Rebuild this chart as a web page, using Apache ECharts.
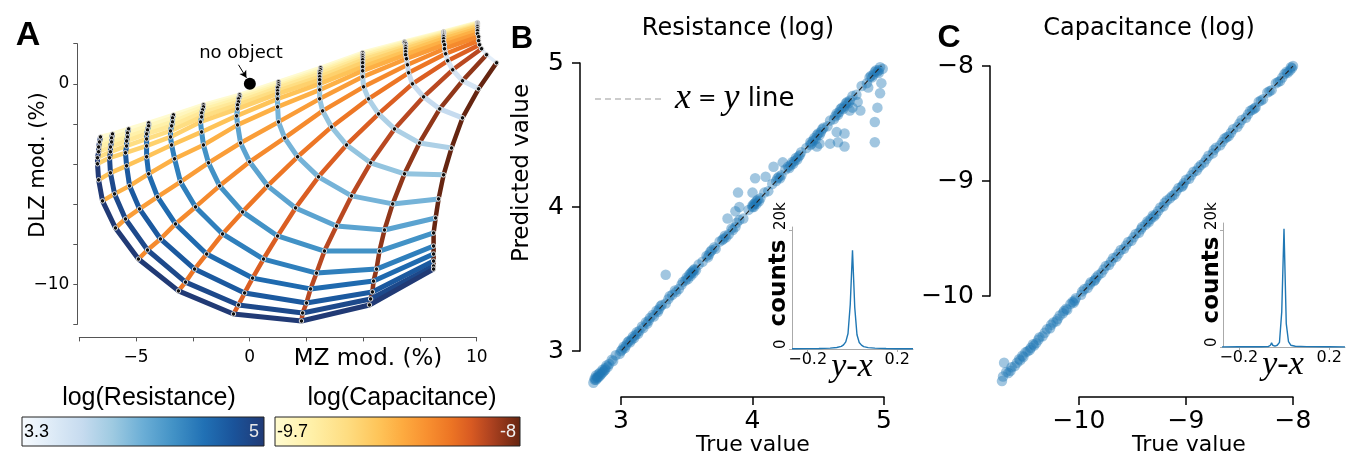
<!DOCTYPE html>
<html><head><meta charset="utf-8">
<script src="https://cdn.jsdelivr.net/npm/echarts@6/dist/echarts.min.js"></script>
<style>html,body{margin:0;padding:0;background:#fff}#c{width:1348px;height:455px}</style>
</head><body><div id="c"></div><script>
// ---------- Panel A data: grid of (MZ, DLZ) points, rows = resistance, cols = capacitance ----------
const RES = [3.30,3.44,3.58,3.73,3.87,4.01,4.15,4.29,4.43,4.58,4.72,4.86,5.00];
const CAP = [-9.70,-9.58,-9.46,-9.34,-9.21,-9.09,-8.97,-8.85,-8.73,-8.61,-8.49,-8.36,-8.24,-8.12,-8.00];
const gridMZ = [
 [10.01,10.01,10.01,10.01,10.01,10.01,10.01,10.01,10.01,10.06,10.06,10.10,10.19,10.41,10.85],
 [8.52,8.52,8.52,8.52,8.52,8.52,8.52,8.52,8.56,8.56,8.61,8.70,8.92,9.35,10.06],
 [6.80,6.80,6.85,6.85,6.85,6.85,6.85,6.85,6.89,6.93,6.98,7.15,7.64,8.35,9.35],
 [4.96,4.96,4.96,4.96,4.96,4.96,4.96,4.96,4.96,5.00,5.22,5.66,6.36,7.46,8.87],
 [3.11,3.11,3.07,3.07,3.07,3.07,3.07,3.07,3.07,3.20,3.59,4.25,5.31,6.80,8.52],
 [1.26,1.26,1.26,1.22,1.22,1.22,1.22,1.22,1.26,1.53,2.10,3.02,4.47,6.28,8.30],
 [-0.45,-0.45,-0.50,-0.50,-0.54,-0.54,-0.58,-0.54,-0.41,-0.01,0.78,2.01,3.81,5.92,8.17],
 [-2.04,-2.04,-2.08,-2.12,-2.12,-2.17,-2.12,-2.04,-1.82,-1.33,-0.32,1.22,3.28,5.70,8.08],
 [-3.36,-3.40,-3.40,-3.44,-3.49,-3.49,-3.44,-3.31,-3.05,-2.39,-1.20,0.60,2.93,5.57,8.08],
 [-4.45,-4.45,-4.50,-4.54,-4.54,-4.54,-4.54,-4.45,-4.06,-3.27,-1.90,0.12,2.67,5.44,8.08],
 [-5.33,-5.38,-5.38,-5.42,-5.42,-5.47,-5.42,-5.29,-4.85,-3.93,-2.43,-0.23,2.49,5.39,8.08],
 [-6.04,-6.08,-6.08,-6.13,-6.13,-6.17,-6.13,-5.95,-5.47,-4.50,-2.83,-0.50,2.32,5.31,8.08],
 [-6.57,-6.61,-6.65,-6.65,-6.70,-6.70,-6.65,-6.48,-5.91,-4.90,-3.14,-0.72,2.27,5.26,8.08]
];
const gridDLZ = [
 [3.05,3.02,2.99,2.95,2.90,2.85,2.75,2.65,2.50,2.35,2.15,1.95,1.75,1.45,1.05],
 [2.60,2.56,2.52,2.47,2.42,2.35,2.25,2.10,1.95,1.75,1.50,1.15,0.70,0.15,-0.25],
 [2.10,2.05,2.00,1.92,1.85,1.75,1.60,1.45,1.25,0.95,0.55,0.00,-0.65,-1.25,-1.70],
 [1.55,1.47,1.40,1.30,1.20,1.05,0.85,0.65,0.35,-0.15,-0.75,-1.50,-2.25,-2.95,-3.20],
 [0.80,0.70,0.60,0.50,0.35,0.20,0.00,-0.30,-0.75,-1.35,-2.15,-3.05,-3.94,-4.49,-4.54],
 [0.10,0.00,-0.10,-0.20,-0.35,-0.50,-0.75,-1.15,-1.90,-2.70,-3.64,-4.64,-5.59,-5.99,-5.74],
 [-0.55,-0.65,-0.75,-0.90,-1.05,-1.25,-1.60,-2.05,-2.95,-3.89,-5.09,-6.19,-7.09,-7.29,-6.69],
 [-1.05,-1.15,-1.30,-1.45,-1.65,-1.90,-2.40,-3.05,-3.94,-5.09,-6.39,-7.59,-8.34,-8.34,-7.44],
 [-1.55,-1.70,-1.90,-2.10,-2.35,-2.65,-3.05,-3.74,-4.89,-6.14,-7.49,-8.74,-9.44,-9.24,-8.09],
 [-1.95,-2.10,-2.30,-2.50,-2.75,-3.10,-3.64,-4.49,-5.64,-6.99,-8.49,-9.69,-10.23,-9.84,-8.49],
 [-2.25,-2.45,-2.65,-2.85,-3.10,-3.44,-4.09,-5.09,-6.24,-7.74,-9.24,-10.43,-10.93,-10.38,-8.84],
 [-2.50,-2.70,-2.90,-3.15,-3.39,-3.69,-4.44,-5.49,-6.74,-8.29,-9.89,-11.03,-11.43,-10.73,-9.09],
 [-2.65,-2.90,-3.15,-3.39,-3.69,-3.99,-4.79,-5.84,-7.19,-8.74,-10.33,-11.48,-11.83,-11.03,-9.24]
];
const noObject = [[0.0, 0.0]];
const aXTicks = [-5, 0, 10];
const aYTicks = [0, -10];

// ---------- Panel B data (true, predicted) ----------
const bPoints = [
 [2.79,2.78],[2.80,2.81],[2.81,2.80],[2.81,2.83],[2.82,2.82],[2.83,2.84],[2.83,2.82],[2.84,2.85],[2.85,2.84],[2.86,2.87],
 [2.87,2.86],[2.88,2.88],[2.89,2.90],[2.91,2.91],[2.94,2.93],[2.96,2.97],[2.99,2.98],[3.01,3.01],[3.02,3.03],[3.04,3.04],
 [3.05,3.06],[3.07,3.06],[3.09,3.10],[3.10,3.09],[3.12,3.13],[3.14,3.14],[3.17,3.16],[3.19,3.20],[3.21,3.21],[3.22,3.23],
 [3.25,3.24],[3.27,3.28],[3.29,3.29],[3.31,3.32],[3.34,3.33],[3.37,3.38],[3.39,3.39],[3.41,3.42],[3.44,3.43],[3.47,3.48],
 [3.49,3.49],[3.52,3.53],[3.53,3.52],[3.54,3.55],[3.55,3.54],[3.56,3.57],[3.59,3.60],[3.62,3.62],[3.65,3.66],[3.67,3.67],
 [3.69,3.70],[3.72,3.71],[3.75,3.76],[3.77,3.77],[3.79,3.80],[3.82,3.81],[3.84,3.85],[3.87,3.86],[3.90,3.91],[3.93,3.92],
 [3.97,3.98],[4.00,4.01],[4.01,4.00],[4.02,4.03],[4.03,4.02],[4.04,4.05],[4.06,4.06],[4.09,4.10],[4.12,4.11],[4.15,4.16],
 [4.18,4.18],[4.20,4.21],[4.22,4.22],[4.25,4.26],[4.28,4.27],[4.30,4.31],[4.31,4.30],[4.33,4.34],[4.35,4.35],[4.37,4.38],
 [4.41,4.41],[4.44,4.45],[4.45,4.44],[4.47,4.48],[4.48,4.47],[4.50,4.51],[4.52,4.52],[4.54,4.55],[4.57,4.56],[4.59,4.60],
 [4.62,4.61],[4.64,4.65],[4.65,4.64],[4.67,4.68],[4.69,4.68],[4.71,4.72],[4.73,4.72],[4.76,4.77],[4.79,4.78],[4.83,4.84],
 [4.87,4.86],[4.90,4.91],[4.91,4.90],[4.93,4.94],[4.95,4.94],[4.97,4.97],
 [2.80,2.80],[2.82,2.81],[2.84,2.83],[2.86,2.85],[2.88,2.87],[2.90,2.89],[2.93,2.94],[3.00,3.00],[3.03,3.02],[3.06,3.07],
 [3.08,3.08],[3.11,3.11],[3.13,3.12],[3.16,3.17],[3.20,3.19],[3.24,3.25],[3.28,3.27],[3.30,3.31],[3.36,3.36],[3.42,3.41],
 [3.46,3.46],[3.50,3.51],[3.51,3.50],[3.53,3.54],[3.55,3.56],[3.57,3.56],[3.66,3.65],[3.68,3.69],[3.71,3.72],[3.78,3.78],
 [3.80,3.79],[3.85,3.84],[3.88,3.89],[4.00,4.00],[4.01,4.02],[4.03,4.04],[4.05,4.04],[4.19,4.20],[4.21,4.20],[4.27,4.28],
 [4.29,4.29],[4.32,4.32],[4.34,4.33],[4.36,4.36],[4.44,4.43],[4.46,4.46],[4.49,4.50],[4.51,4.50],[4.53,4.54],[4.63,4.63],
 [4.66,4.66],[4.68,4.69],[4.70,4.70],[4.72,4.73],[4.74,4.74],[4.89,4.90],[4.92,4.92],[4.94,4.95],[4.96,4.95],
 [3.34,3.53],[3.81,3.92],[3.87,3.97],[3.90,4.00],[3.89,4.10],[4.00,4.10],[4.02,4.20],[4.10,4.21],[4.16,4.28],[4.23,4.31],
 [4.49,4.42],[4.51,4.44],[4.59,4.44],[4.64,4.52],[4.65,4.45],[4.70,4.51],[4.70,4.42],[4.74,4.67],[4.76,4.69],[4.80,4.73],
 [4.82,4.67],[4.88,4.83],[4.93,4.45],[4.93,4.59],[4.95,4.69],[4.97,4.79],[4.98,4.86],[4.99,4.96],[4.96,4.93]
];
const bDiag = [[2.80,2.80],[4.98,4.98]];
const bHistX = [-0.27,-0.2,-0.15,-0.1,-0.07,-0.05,-0.04,-0.03,-0.02,-0.01,0,0.01,0.02,0.03,0.04,0.05,0.07,0.1,0.15,0.2,0.27];
const bHistY = [30,60,90,150,250,450,700,1200,2600,7500,16600,7000,2400,1100,650,400,230,140,80,50,30];

// ---------- Panel C data (true, predicted) ----------
const cPoints = [
 [-10.72,-10.74],[-10.70,-10.58],[-10.68,-10.66],[-10.66,-10.67],[-10.63,-10.62],[-10.60,-10.61],[-10.56,-10.55],[-10.55,-10.56],[-10.52,-10.53],[-10.50,-10.49],
 [-10.46,-10.47],[-10.45,-10.45],[-10.43,-10.42],[-10.40,-10.41],[-10.37,-10.36],[-10.34,-10.35],[-10.30,-10.29],[-10.27,-10.28],[-10.24,-10.23],[-10.21,-10.22],
 [-10.18,-10.17],[-10.15,-10.15],[-10.12,-10.11],[-10.11,-10.12],[-10.08,-10.07],[-10.05,-10.06],[-10.03,-10.02],[-9.98,-9.99],[-9.95,-9.94],[-9.92,-9.93],
 [-9.89,-9.88],[-9.86,-9.87],[-9.85,-9.86],[-9.82,-9.82],[-9.79,-9.80],[-9.75,-9.74],[-9.72,-9.73],[-9.68,-9.67],[-9.65,-9.66],[-9.61,-9.60],
 [-9.58,-9.59],[-9.54,-9.53],[-9.51,-9.52],[-9.47,-9.46],[-9.44,-9.45],[-9.41,-9.40],[-9.38,-9.38],[-9.36,-9.35],[-9.35,-9.36],[-9.31,-9.30],
 [-9.30,-9.31],[-9.28,-9.29],[-9.24,-9.23],[-9.21,-9.22],[-9.18,-9.17],[-9.15,-9.15],[-9.11,-9.12],[-9.07,-9.06],[-9.04,-9.05],[-9.03,-9.04],
 [-9.00,-8.99],[-8.97,-8.98],[-8.93,-8.92],[-8.90,-8.91],[-8.86,-8.86],[-8.83,-8.84],[-8.79,-8.78],[-8.75,-8.76],[-8.72,-8.71],[-8.68,-8.69],
 [-8.64,-8.63],[-8.62,-8.62],[-8.60,-8.61],[-8.56,-8.55],[-8.52,-8.53],[-8.48,-8.47],[-8.44,-8.45],[-8.40,-8.39],[-8.36,-8.37],[-8.35,-8.36],
 [-8.32,-8.31],[-8.28,-8.29],[-8.24,-8.23],[-8.20,-8.21],[-8.16,-8.15],[-8.12,-8.13],[-8.10,-8.10],[-8.08,-8.07],[-8.05,-8.06],[-8.03,-8.04],
 [-8.02,-8.01],[-8.00,-8.00],
 [-10.71,-10.70],[-10.64,-10.65],[-10.58,-10.58],[-10.53,-10.52],[-10.48,-10.48],[-10.42,-10.43],[-10.38,-10.38],[-10.32,-10.32],[-10.26,-10.25],[-10.20,-10.20],
 [-10.14,-10.13],[-10.06,-10.05],[-10.04,-10.04],[-9.97,-9.96],[-9.90,-9.90],[-9.84,-9.84],[-9.77,-9.77],[-9.70,-9.70],[-9.63,-9.63],[-9.56,-9.56],
 [-9.49,-9.49],[-9.42,-9.42],[-9.33,-9.33],[-9.26,-9.26],[-9.20,-9.19],[-9.13,-9.13],[-9.09,-9.09],[-9.02,-9.02],[-8.95,-8.95],[-8.88,-8.88],
 [-8.81,-8.81],[-8.74,-8.73],[-8.66,-8.66],[-8.58,-8.58],[-8.50,-8.50],[-8.42,-8.42],[-8.38,-8.38],[-8.30,-8.30],[-8.22,-8.22],[-8.14,-8.14],
 [-8.06,-8.05],[-8.01,-8.02]
];
const cDiag = [[-10.72,-10.72],[-8.00,-8.00]];
const cHistX = [-0.28,-0.2,-0.1,-0.07,-0.06,-0.055,-0.05,-0.04,-0.03,-0.02,-0.01,0,0.01,0.02,0.03,0.05,0.1,0.2,0.27];
const cHistY = [20,30,40,60,300,700,300,150,300,800,6000,20200,4000,900,300,120,60,30,20];

// ---------- colour maps ----------
const blueStops = [[0,'#f7fbff'],[0.125,'#deebf7'],[0.25,'#c6dbef'],[0.375,'#9ecae1'],[0.5,'#6baed6'],[0.625,'#4292c6'],[0.75,'#2171b5'],[0.875,'#1a539a'],[1,'#213a75']];
const orangeStops = [[0,'#fffbd0'],[0.15,'#fff0a8'],[0.3,'#fedc80'],[0.42,'#fec55a'],[0.52,'#fdab40'],[0.62,'#f89030'],[0.72,'#ec7424'],[0.8,'#d85a22'],[0.88,'#ae4220'],[0.94,'#8a3318'],[1,'#652511']];
function hex2rgb(h){return [parseInt(h.substr(1,2),16),parseInt(h.substr(3,2),16),parseInt(h.substr(5,2),16)];}
function cmap(stops,t){
  t=Math.max(0,Math.min(1,t));
  for(let k=1;k<stops.length;k++){
    if(t<=stops[k][0]){
      const a=stops[k-1],b=stops[k];const f=(t-a[0])/(b[0]-a[0]);
      const ca=hex2rgb(a[1]),cb=hex2rgb(b[1]);
      return 'rgb('+ca.map((v,i)=>Math.round(v+(cb[i]-v)*f)).join(',')+')';
    }
  }
  return stops[stops.length-1][1];
}
const minus = v => (v<0?'\u2212':'')+Math.abs(v);
const DJ = 'DejaVu Sans';
const LS = 'Liberation Sans';

// Panel A: data drawn in grid 5 (wider, hidden axes, same scale); visible axes on grid 0
const series = [];
CAP.forEach((c,j)=>{
  series.push({type:'line',xAxisIndex:5,yAxisIndex:5,symbol:'none',clip:false,silent:true,z:2,
    data:gridMZ.map((row,i)=>[row[j],gridDLZ[i][j]]),
    lineStyle:{width:4.5,color:cmap(orangeStops,(c+9.7)/1.7)}});
});
RES.forEach((r,i)=>{
  series.push({type:'line',xAxisIndex:5,yAxisIndex:5,symbol:'none',clip:false,silent:true,z:3,
    data:gridMZ[i].map((x,j)=>[x,gridDLZ[i][j]]),
    lineStyle:{width:i===0?3.5:5,color:cmap(blueStops,0.1+0.9*(r-3.3)/1.7)}});
});
const dots=[];gridMZ.forEach((row,i)=>row.forEach((x,j)=>dots.push([x,gridDLZ[i][j]])));
series.push({type:'scatter',xAxisIndex:5,yAxisIndex:5,data:dots,symbolSize:4.5,clip:false,silent:true,z:5,
  itemStyle:{color:'#111',borderColor:'#e0e0e0',borderWidth:1,opacity:1}});
series.push({type:'scatter',xAxisIndex:5,yAxisIndex:5,data:noObject,symbolSize:12,clip:false,silent:true,z:6,
  itemStyle:{color:'#000',borderWidth:0,opacity:1},
  markLine:{silent:true,symbol:['none','arrow'],symbolSize:[6,7],label:{show:false},
    lineStyle:{color:'#000',width:1,type:'solid'},
    data:[[{coord:[-0.50,0.95]},{coord:[-0.15,0.30]}]]}});
const ptStyle = {color:'rgba(31,119,180,0.42)',borderWidth:0,opacity:1};
series.push({type:'scatter',xAxisIndex:1,yAxisIndex:1,data:bPoints,symbolSize:10.5,clip:false,silent:true,z:2,itemStyle:ptStyle});
series.push({type:'line',xAxisIndex:1,yAxisIndex:1,data:bDiag,symbol:'none',clip:false,silent:true,z:3,
  lineStyle:{color:'#222',width:1.1,type:[5,3]}});
series.push({type:'line',xAxisIndex:2,yAxisIndex:2,data:bHistX.map((x,k)=>[x,bHistY[k]]),symbol:'none',clip:false,silent:true,z:3,
  lineStyle:{color:'#1f77b4',width:1.4}});
series.push({type:'scatter',xAxisIndex:3,yAxisIndex:3,data:cPoints,symbolSize:10.5,clip:false,silent:true,z:2,itemStyle:ptStyle});
series.push({type:'line',xAxisIndex:3,yAxisIndex:3,data:cDiag,symbol:'none',clip:false,silent:true,z:3,
  lineStyle:{color:'#222',width:1.1,type:[5,3]}});
series.push({type:'line',xAxisIndex:4,yAxisIndex:4,data:cHistX.map((x,k)=>[x,cHistY[k]]),symbol:'none',clip:false,silent:true,z:3,
  lineStyle:{color:'#1f77b4',width:1.4}});

const bigAxisX = (idx,min,max,offset)=>({type:'value',gridIndex:idx,min:min,max:max,interval:1,offset:offset,
  axisLine:{show:true,onZero:false,lineStyle:{color:'#000',width:1.5}},axisTick:{show:true,length:8,lineStyle:{color:'#000',width:1.5}},
  axisLabel:{fontFamily:DJ,fontSize:25,color:'#000',margin:12,formatter:minus},splitLine:{show:false}});
const bigAxisY = (idx,min,max,offset)=>({type:'value',gridIndex:idx,min:min,max:max,interval:1,offset:offset,
  axisLine:{show:true,onZero:false,lineStyle:{color:'#000',width:1.5}},axisTick:{show:true,length:8,lineStyle:{color:'#000',width:1.5}},
  axisLabel:{fontFamily:DJ,fontSize:25,color:'#000',margin:16,formatter:minus},splitLine:{show:false}});
const insetX = idx=>({type:'value',gridIndex:idx,min:-0.27,max:0.27,
  axisLine:{show:true,onZero:false,lineStyle:{color:'#aaa',width:1}},
  axisTick:{show:true,length:3,customValues:[-0.2,0.2],lineStyle:{color:'#aaa'}},
  axisLabel:{fontFamily:DJ,fontSize:16,color:'#000',margin:3,customValues:[-0.2,0.2],formatter:v=>minus(Math.round(v*10)/10)},
  splitLine:{show:false}});
const insetY = (idx,max)=>({type:'value',gridIndex:idx,min:0,max:max,interval:20000,
  axisLine:{show:true,onZero:false,lineStyle:{color:'#aaa',width:1}},
  axisTick:{show:true,length:3,lineStyle:{color:'#aaa'}},
  axisLabel:{fontFamily:DJ,fontSize:15,color:'#000',margin:3,rotate:90,align:'left',verticalAlign:'bottom',showMaxLabel:false,
    formatter:v=>v===0?'0':(v===20000?'20k':'')},
  splitLine:{show:false}});
const hiddenAxis = (idx,min,max)=>({type:'value',gridIndex:idx,min:min,max:max,show:false,
  axisLine:{show:false,onZero:false},axisTick:{show:false},axisLabel:{show:false},splitLine:{show:false}});

function txt(x,y,text,size,o){o=o||{};
  return {type:'text',x:x,y:y,rotation:o.rot||0,z:50,silent:true,
    style:{text:text,fill:o.fill||'#000',fontSize:size,fontFamily:o.family||DJ,fontWeight:o.weight||'normal',fontStyle:o.style||'normal',
      align:o.align||'center',verticalAlign:'middle',textAlign:o.align||'center',textVerticalAlign:'middle',rich:o.rich}};
}
const graphic = [
  txt(28,36,'A',34,{family:LS,weight:'bold'}),
  txt(522,39,'B',31,{family:LS,weight:'bold'}),
  txt(949,38,'C',32,{family:LS,weight:'bold'}),
  txt(738,29,'Resistance (log)',24),
  txt(1149,29,'Capacitance (log)',24),
  txt(368,359,'MZ mod. (%)',23),
  txt(39,165,'DLZ mod. (%)',21,{rot:Math.PI/2}),
  txt(241,53,'no object',18),
  txt(753,445,'True value',22),
  txt(1189,445,'True value',22),
  txt(522,173,'Predicted value',23,{rot:Math.PI/2}),
  txt(779,283,'counts',23,{rot:Math.PI/2,weight:'bold'}),
  txt(1212,280,'counts',23,{rot:Math.PI/2,weight:'bold'}),
  txt(852,367,'y-x',34,{family:'Liberation Serif',style:'italic'}),
  txt(1283,365,'y-x',34,{family:'Liberation Serif',style:'italic'}),
  {type:'line',z:50,silent:true,shape:{x1:595,y1:99,x2:662,y2:99},style:{stroke:'#999',lineWidth:1.1,lineDash:[6,4]}},
  txt(675,99,'{i|x}{e| = }{i|y}{l| line}',26,{align:'left',rich:{
    i:{fontFamily:'Liberation Serif',fontStyle:'italic',fontSize:36},
    e:{fontFamily:DJ,fontSize:22},
    l:{fontFamily:DJ,fontSize:26}}}),
  txt(149,398,'log(Resistance)',25,{family:LS}),
  {type:'rect',z:40,silent:true,shape:{x:22,y:417,width:242,height:29},
    style:{stroke:'#222',lineWidth:1,fill:new echarts.graphic.LinearGradient(0,0,1,0,blueStops.map(s=>({offset:s[0],color:s[1]})))}},
  txt(24,432,'3.3',18,{family:LS,align:'left'}),
  txt(259,432,'5',18,{family:LS,align:'right',fill:'#e8e8e8'}),
  txt(402,398,'log(Capacitance)',25,{family:LS}),
  {type:'rect',z:40,silent:true,shape:{x:275,y:417,width:245,height:29},
    style:{stroke:'#222',lineWidth:1,fill:new echarts.graphic.LinearGradient(0,0,1,0,orangeStops.map(s=>({offset:s[0],color:s[1]})))}},
  txt(277,432,'-9.7',18,{family:LS,align:'left'}),
  txt(516,432,'-8',18,{family:LS,align:'right',fill:'#f0f0f0'})
];

// pixel scale of panel A: 22.74 px per MZ unit, 20.03 px per DLZ unit
const option = {
  animation:false,
  backgroundColor:'#fff',
  textStyle:{fontFamily:DJ},
  grid:[
    {left:79.3,top:43.7,width:397.4,height:280.7,outerBoundsMode:'none',containLabel:false},
    {left:621,top:63,width:263,height:288,outerBoundsMode:'none',containLabel:false},
    {left:792,top:227,width:121,height:122,outerBoundsMode:'none',containLabel:false},
    {left:1079,top:66,width:214,height:230,outerBoundsMode:'none',containLabel:false},
    {left:1223,top:223,width:122,height:124,outerBoundsMode:'none',containLabel:false},
    {left:79.3,top:13.65,width:420.69,height:310.75,outerBoundsMode:'none',containLabel:false}
  ],
  xAxis:[
    {type:'value',gridIndex:0,min:-7.5,max:10,interval:2.5,offset:13,
      axisLine:{show:true,onZero:false,lineStyle:{color:'#555',width:1}},axisTick:{show:true,length:4,lineStyle:{color:'#555'}},
      axisLabel:{fontFamily:DJ,fontSize:17,color:'#000',margin:12,formatter:v=>aXTicks.indexOf(v)>=0?minus(v):''},splitLine:{show:false}},
    bigAxisX(1,3,5,46),
    insetX(2),
    bigAxisX(3,-10,-8,101),
    insetX(4),
    hiddenAxis(5,-7.5,11)
  ],
  yAxis:[
    {type:'value',gridIndex:0,min:-12,max:2,interval:2,offset:2,
      axisLine:{show:true,onZero:false,lineStyle:{color:'#555',width:1}},axisTick:{show:true,length:4,lineStyle:{color:'#555'}},
      axisLabel:{fontFamily:DJ,fontSize:17,color:'#000',margin:8,formatter:v=>aYTicks.indexOf(v)>=0?minus(v):''},splitLine:{show:false}},
    bigAxisY(1,3,5,41),
    insetY(2,20500),
    bigAxisY(3,-10,-8,89),
    insetY(4,21200),
    hiddenAxis(5,-12,3.5)
  ],
  series:series,
  graphic:graphic
};
const chart = echarts.init(document.getElementById('c'),null,{renderer:'canvas'});
chart.setOption(option);
</script></body></html>
